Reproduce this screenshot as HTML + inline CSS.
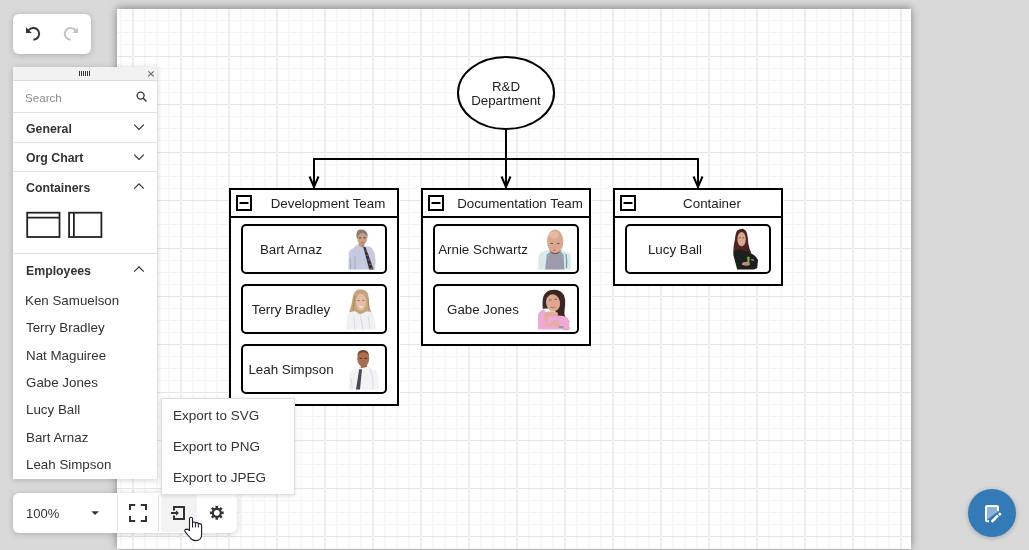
<!DOCTYPE html>
<html>
<head>
<meta charset="utf-8">
<style>
html,body{margin:0;padding:0;}
body{width:1029px;height:550px;overflow:hidden;position:relative;background:#d9d9d9;font-family:"Liberation Sans",sans-serif;color:#333;}
.abs{position:absolute;}
.t{position:absolute;white-space:nowrap;line-height:1;will-change:transform;}
#page{left:117px;top:9px;width:794px;height:540px;background-color:#fff;
 background-image:
  linear-gradient(to right,#eeeeee 2px,transparent 2px),
  linear-gradient(to bottom,#e5e5e5 1px,transparent 1px),
  linear-gradient(to right,#f8f8f8 2px,transparent 2px),
  linear-gradient(to bottom,#f4f4f4 1px,transparent 1px);
 background-size:48px 48px,48px 48px,12px 12px,12px 12px;
 background-position:15px 0,0 47px,3px 0,0 11px;
 box-shadow:0 0 9px rgba(0,0,0,.32),0 -3px 6px rgba(0,0,0,.1);}
.panel{position:absolute;background:#fff;box-shadow:0 1px 6px rgba(0,0,0,.2);}
</style>
</head>
<body>
<div id="page" class="abs"></div>

<!-- diagram -->
<svg class="abs" style="left:0;top:0;will-change:transform" width="1029" height="550" viewBox="0 0 1029 550" font-family="Liberation Sans, sans-serif" font-size="13.333">
<defs>
 <g id="bart">
  <path d="M2.4 41.6L2.8 24.8Q3.5 21.5 6.4 20.8L12 16L18.4 18.4L24 18.4L26.4 20.8Q29 24 29.6 33.6L28.8 41.6Z" fill="#c6cae0"/>
  <path d="M8.8 28Q9.5 35 8.8 41.6M4 30Q5 36 4.5 41" stroke="#a3a8c6" stroke-width="1" fill="none"/>
  <path d="M12.8 13.6L12.8 17L16 19.5L18.4 18.4L18.4 13.6Z" fill="#b89078"/>
  <ellipse cx="16.2" cy="10.2" rx="5" ry="6.6" fill="#c8a08a"/>
  <path d="M10.6 10Q9.6 2.5 14 1.6Q20 1 21.6 6.5L21.4 10Q20.5 5.8 16.5 5Q12.5 5.2 11.8 10Z" fill="#8b7d6e"/>
  <path d="M13 9.8H15.2M17.4 9.8H19.6" stroke="#5a4030" stroke-width="1"/>
  <path d="M15.5 14.5H18" stroke="#8a5a4a" stroke-width="0.8"/>
  <path d="M17.2 18.8L19.6 19.2L27.6 41.6L23.2 41.6Z" fill="#2c3148"/>
  <path d="M18.8 23L21 22.8M20.3 27.5L23 27M21.8 32L24.5 31.5M23.2 36.5L26 36M24.3 40.5L27.2 40" stroke="#b5632e" stroke-width="1.2"/>
 </g>
 <g id="terry">
  <path d="M3.2 24Q6 16 7.2 7.2Q9.5 2 12.8 1.6Q17 1 18.4 2Q22 4 22.4 8L23.2 19.2Q24 22 25.6 23.2Q22 26 17.6 26.4L8 26.4Q5 26 3.2 24Z" fill="#c4a47c"/>
  <path d="M7 22Q8 14 9 8M22 10Q22.5 18 23.5 22" stroke="#a4865e" stroke-width="1" fill="none"/>
  <ellipse cx="15" cy="14" rx="5.2" ry="8.4" fill="#e6bca2"/>
  <path d="M11.5 12.4H13.8M16.2 12.4H18.5" stroke="#8a6a5a" stroke-width="0.9"/>
  <path d="M12.6 18.2Q15 20.6 17.6 18.2Z" fill="#fff"/>
  <path d="M0 41.6L1.6 25.6Q4 23.5 9.6 23.2L14 26.4L20.8 23.2Q25 23.5 27.2 25.6L30.4 41.6Z" fill="#f1f1f3"/>
  <path d="M14 26.4L17 41.6M8 29L9 41.6M22 28L24 41" stroke="#d6d6de" stroke-width="0.9" fill="none"/>
 </g>
 <g id="leah">
  <path d="M2.4 41.6L3.2 26.4Q4.5 22.5 8 21.6L14.4 19.2L20.8 17.2L24 19.2L31.2 24Q33 30 32.8 41.6Z" fill="#f3f3f5"/>
  <path d="M24 21Q28 30 27 41.6M5 30Q6 36 6 41" stroke="#dcdce2" stroke-width="1" fill="none"/>
  <path d="M14.8 15L14.8 20L20.8 19L20.8 15Z" fill="#8e5c40"/>
  <ellipse cx="17.2" cy="10.4" rx="6" ry="8.2" fill="#a87050"/>
  <path d="M11.4 8Q11.5 2 17 2Q22.8 2 23 8Q21.5 4.5 17 4.3Q13 4.5 11.4 8Z" fill="#6e4430"/>
  <path d="M13.6 10.4H15.8M18.6 10.4H20.8" stroke="#3a2218" stroke-width="1"/>
  <path d="M13.2 21.2L16 21.2L14 41.6L10 41.6Z" fill="#454a52"/>
 </g>
 <g id="arnie">
  <path d="M0 41.6L0.8 27.2Q3 23 8.8 22.4L24 21.6L28 24Q31 25 32.8 26.4L32.8 41.6Z" fill="#d8eaea"/>
  <path d="M7.2 41.6L8.8 26.4Q10.5 24.5 13.2 24L23.2 24Q25 25 25.6 27.2L26.4 41.6Z" fill="#9c9cae"/>
  <path d="M28 26Q29 32 28.5 40" stroke="#6a9a9a" stroke-width="1.2" fill="none"/>
  <ellipse cx="17.2" cy="13.6" rx="8.2" ry="12" fill="#d9a88e"/>
  <ellipse cx="16" cy="7" rx="5" ry="3.5" fill="#e6baa2"/>
  <path d="M11 22Q17 28.5 23.5 22Q22 25.5 17 26.2Q12.5 25.5 11 22Z" fill="#6e5246"/>
  <path d="M12.5 15.5H15M19 15.5H21.5" stroke="#7a5444" stroke-width="1"/>
  <circle cx="16.5" cy="22" r="1" fill="#d46a7a"/>
 </g>
 <g id="gabe">
  <path d="M4.8 20.8Q4 12 5.6 8Q8 3.5 11.2 2.4Q15 1.5 19.2 2Q23 3 25.6 6.4Q27.5 10 27.2 16Q26.5 22 26.4 26.4Q28 31 31.2 33.6L30.4 41.6L25.6 41.6Q22 35 20 30.4L16 20Z" fill="#3a2622"/>
  <ellipse cx="15" cy="14.8" rx="7" ry="8.6" transform="rotate(-12 15 14.8)" fill="#e0a890"/>
  <path d="M11 12H13.5M16.5 11.4H19" stroke="#6a4a40" stroke-width="0.9"/>
  <path d="M12.5 19.2Q15 20.5 17.5 19" stroke="#c85a70" stroke-width="1" fill="none"/>
  <path d="M0 41.6L0 26.4Q2 22.5 5.6 21.6L10.4 26.4L25.6 28Q29 29 30.4 30.4L32 41.6Z" fill="#eeaad4"/>
  <path d="M6.5 25Q12 22 19.5 24.5Q21 27 18 28.5Q13 28 10 29Q8 33 9.5 36Q12 37 14 34Q16 31 19 32Q21 35 22 38L20 39Q16 36 13 38Q9 39 7.5 36Q6 30 6.5 25Z" fill="#e4ae9c"/>
  <rect x="20.8" y="38" width="4.8" height="2.2" fill="#9a9aa2"/>
 </g>
 <g id="lucy">
  <path d="M3.2 25.6Q3.5 17 4.8 12Q5.5 5 7.2 2.4Q10 0.6 12.8 0.8Q16 2 16.8 4.8Q18 9 18.4 16Q19.5 22 21.6 25.6Z" fill="#4a2420"/>
  <ellipse cx="11.6" cy="11.2" rx="4.2" ry="7.2" fill="#d8a890"/>
  <path d="M9.2 9.8H10.8M12.6 9.8H14.2" stroke="#5a3a30" stroke-width="0.8"/>
  <path d="M7.2 41.6L3.2 26.4Q5 22 8.8 21.6L16 23.2L23.2 26.4Q27 29 28 32L27.2 40L24 41.6Z" fill="#1c201c"/>
  <path d="M17.2 28.8L19.6 28.8L19.2 36L17.6 36Z" fill="#80b830"/>
  <path d="M12 35Q16 33 19 34.5Q21 36 19 37.5Q15 38 12 37Z" fill="#b88a76"/>
  <path d="M21 32Q23 31 23.5 33" stroke="#b88a76" stroke-width="1.2" fill="none"/>
 </g>
</defs>
 <g fill="none" stroke="#000" stroke-width="2">
  <ellipse cx="506" cy="93" rx="48" ry="36" fill="#fff"/>
  <path d="M506 129V187M314 159H698M314 158V187M698 158V187"/>
  <path d="M309.5 176.5L314 187L318.5 176.5M501.5 176.5L506 187L510.5 176.5M693.5 176.5L698 187L702.5 176.5"/>
 </g>
 <text x="506" y="91" text-anchor="middle" fill="#222">R&amp;D</text>
 <text x="506" y="105" text-anchor="middle" fill="#222">Department</text>
 <g stroke="#000" stroke-width="2" fill="#fff"><rect x="230" y="189" width="168" height="216"/><path d="M230 217H398" fill="none"/><rect x="237" y="196" width="14" height="14"/><path d="M239.5 203H248.5" fill="none"/></g>
 <text x="328" y="208" text-anchor="middle" fill="#222">Development Team</text>
 <rect x="242" y="225" width="144" height="48" rx="4" fill="#fff" stroke="#000" stroke-width="2"/>
 <text x="291" y="254" text-anchor="middle" fill="#222">Bart Arnaz</text>
 <use href="#bart" x="346" y="228"/>
 <rect x="242" y="285" width="144" height="48" rx="4" fill="#fff" stroke="#000" stroke-width="2"/>
 <text x="291" y="314" text-anchor="middle" fill="#222">Terry Bradley</text>
 <use href="#terry" x="346" y="288"/>
 <rect x="242" y="345" width="144" height="48" rx="4" fill="#fff" stroke="#000" stroke-width="2"/>
 <text x="291" y="374" text-anchor="middle" fill="#222">Leah Simpson</text>
 <use href="#leah" x="346" y="348"/>
 <g stroke="#000" stroke-width="2" fill="#fff"><rect x="422" y="189" width="168" height="156"/><path d="M422 217H590" fill="none"/><rect x="429" y="196" width="14" height="14"/><path d="M431.5 203H440.5" fill="none"/></g>
 <text x="520" y="208" text-anchor="middle" fill="#222">Documentation Team</text>
 <rect x="434" y="225" width="144" height="48" rx="4" fill="#fff" stroke="#000" stroke-width="2"/>
 <text x="483" y="254" text-anchor="middle" fill="#222">Arnie Schwartz</text>
 <use href="#arnie" x="538" y="228"/>
 <rect x="434" y="285" width="144" height="48" rx="4" fill="#fff" stroke="#000" stroke-width="2"/>
 <text x="483" y="314" text-anchor="middle" fill="#222">Gabe Jones</text>
 <use href="#gabe" x="538" y="288"/>
 <g stroke="#000" stroke-width="2" fill="#fff"><rect x="614" y="189" width="168" height="96"/><path d="M614 217H782" fill="none"/><rect x="621" y="196" width="14" height="14"/><path d="M623.5 203H632.5" fill="none"/></g>
 <text x="712" y="208" text-anchor="middle" fill="#222">Container</text>
 <rect x="626" y="225" width="144" height="48" rx="4" fill="#fff" stroke="#000" stroke-width="2"/>
 <text x="675" y="254" text-anchor="middle" fill="#222">Lucy Ball</text>
 <use href="#lucy" x="730" y="228"/>
</svg>

<!-- undo toolbar -->
<div class="panel" style="left:12.5px;top:13.5px;width:78.5px;height:40.5px;border-radius:6px;"></div>
<svg class="abs" style="left:0;top:0" width="100" height="60" viewBox="0 0 100 60">
 <g fill="none" stroke-width="2">
  <path d="M28.6 30.2A5.9 5.9 0 1 1 33.4 39.7" stroke="#333"/>
  <path d="M75.4 30.2A5.9 5.9 0 1 0 70.6 39.7" stroke="#c4c4c4"/>
 </g>
 <path d="M26 27.2V32.9H31.8Z" fill="#333"/>
 <path d="M78 27.2V32.9H72.2Z" fill="#c4c4c4"/>
</svg>

<!-- toolbox -->
<div class="panel" style="left:12.5px;top:67px;width:144.5px;height:412px;"></div>
<div class="abs" style="left:12.5px;top:67px;width:144.5px;height:13px;background:#f2f2f2;border-bottom:1px solid #dcdcdc;"></div>
<svg class="abs" style="left:0;top:60px" width="160" height="440" viewBox="0 60 160 440">
 <g fill="#333"><rect x="79" y="71" width="1" height="5"/><rect x="81" y="71" width="1" height="5"/><rect x="83" y="71" width="1" height="5"/><rect x="85" y="71" width="1" height="5"/><rect x="87" y="71" width="1" height="5"/><rect x="89" y="71" width="1" height="5"/></g>
 <path d="M148.3 71.3L153.7 76.3M153.7 71.3L148.3 76.3" stroke="#666" stroke-width="1.1"/>
 <circle cx="140.6" cy="95.6" r="3.5" fill="none" stroke="#333" stroke-width="1.3"/>
 <path d="M143.1 98.1L146.5 101.5" stroke="#333" stroke-width="1.4"/>
 <g fill="#e0e0e0">
  <rect x="12.5" y="112" width="144.5" height="1"/>
  <rect x="12.5" y="142" width="144.5" height="1"/>
  <rect x="12.5" y="171" width="144.5" height="1"/>
  <rect x="12.5" y="253" width="144.5" height="1"/>
 </g>
 <g fill="none" stroke="#333" stroke-width="1.2">
  <path d="M134.2 124.6L139 129.4L143.8 124.6"/>
  <path d="M134.2 154.6L139 159.4L143.8 154.6"/>
  <path d="M134.2 188.6L139 183.8L143.8 188.6"/>
  <path d="M134.2 271.6L139 266.8L143.8 271.6"/>
 </g>
 <g fill="none" stroke="#222" stroke-width="1.8">
  <rect x="27.2" y="212.7" width="32.3" height="24.3"/>
  <path d="M27.2 217.6H59.5"/>
  <rect x="69.1" y="212.7" width="32.3" height="24.3"/>
  <path d="M73.9 212.7V237"/>
 </g>
</svg>
<div class="t" style="left:25.2px;top:92.2px;font-size:11.6px;color:#8c8c8c;">Search</div>
<div class="t b" style="left:25.5px;top:122.8px;font-size:12.3px;font-weight:bold;">General</div>
<div class="t b" style="left:25.5px;top:152.3px;font-size:12.3px;font-weight:bold;">Org Chart</div>
<div class="t b" style="left:25.5px;top:181.8px;font-size:12.3px;font-weight:bold;">Containers</div>
<div class="t b" style="left:25.5px;top:264.8px;font-size:12.3px;font-weight:bold;">Employees</div>
<div class="t" style="left:24.8px;top:293.8px;font-size:13.35px;">Ken Samuelson</div>
<div class="t" style="left:25.5px;top:321.2px;font-size:13.35px;">Terry Bradley</div>
<div class="t" style="left:25.5px;top:348.5px;font-size:13.35px;">Nat Maguiree</div>
<div class="t" style="left:25.5px;top:375.9px;font-size:13.35px;">Gabe Jones</div>
<div class="t" style="left:25.5px;top:403.2px;font-size:13.35px;">Lucy Ball</div>
<div class="t" style="left:25.5px;top:430.6px;font-size:13.35px;">Bart Arnaz</div>
<div class="t" style="left:25.5px;top:457.9px;font-size:13.35px;">Leah Simpson</div>

<!-- bottom toolbar -->
<div class="panel" style="left:12.5px;top:493px;width:224.5px;height:40px;border-radius:6px;"></div>
<div class="abs" style="left:161px;top:495px;width:35.5px;height:37px;background:#f3f3f3;border-radius:0 0 0 4px;"></div>
<svg class="abs" style="left:0;top:480px" width="250" height="70" viewBox="0 480 250 70">
 <rect x="117" y="495" width="1" height="36" fill="#e0e0e0"/>
 <rect x="158" y="495" width="1" height="36" fill="#e0e0e0"/>
 <path d="M91.3 511.2H98.9L95.1 515Z" fill="#333"/>
 <g fill="none" stroke="#333" stroke-width="2">
  <path d="M130 510V505H135.2M140.8 505H146V510M146 516V521H140.8M135.2 521H130V516"/>
  <path d="M174 510.5V507H184V519H174V515.4"/>
 </g>
 <path d="M171 513H176.5" stroke="#333" stroke-width="2"/>
 <path d="M176 510.2L178.9 513L176 515.8Z" fill="#333"/>
 <g transform="translate(216.8 512.8)" fill="#333">
  <circle r="5.1"/><rect x="-1.3" y="-6.9" width="2.6" height="2.8" transform="rotate(0)"/><rect x="-1.3" y="-6.9" width="2.6" height="2.8" transform="rotate(45)"/><rect x="-1.3" y="-6.9" width="2.6" height="2.8" transform="rotate(90)"/><rect x="-1.3" y="-6.9" width="2.6" height="2.8" transform="rotate(135)"/><rect x="-1.3" y="-6.9" width="2.6" height="2.8" transform="rotate(180)"/><rect x="-1.3" y="-6.9" width="2.6" height="2.8" transform="rotate(225)"/><rect x="-1.3" y="-6.9" width="2.6" height="2.8" transform="rotate(270)"/><rect x="-1.3" y="-6.9" width="2.6" height="2.8" transform="rotate(315)"/>
  <circle r="2.9" fill="#fff"/>
 </g>
 <path d="M189.5 530V518.7A1.5 1.5 0 0 1 192.5 518.7V522.8Q192.5 522 194 522Q195.4 522 195.4 523.2Q195.4 522.6 196.9 522.6Q198.3 522.6 198.3 523.8Q198.3 523.3 199.8 523.6Q201.6 524 201.6 525.5V534.5Q201.6 540.6 195.5 540.6Q192 540.6 190 537.5L185.2 531.8Q184.3 530 185.5 529.4Q187.2 528.6 189.5 530.5Z" fill="#fff" stroke="#1a1a2e" stroke-width="1.1" stroke-linejoin="round"/>
 <path d="M192.5 522.8V527.5M195.4 523.2V527.5M198.3 523.8V527.5" stroke="#1a1a2e" stroke-width="1"/>
</svg>
<div class="t" style="left:25.8px;top:507px;font-size:13px;">100%</div>

<!-- export popup -->
<div class="panel" style="left:161px;top:398px;width:132px;height:95px;border:1px solid #dedede;box-shadow:0 1px 4px rgba(0,0,0,.12);"></div>
<div class="t" style="left:172.8px;top:408.6px;font-size:13.5px;">Export to SVG</div>
<div class="t" style="left:172.8px;top:439.6px;font-size:13.5px;">Export to PNG</div>
<div class="t" style="left:172.8px;top:470.6px;font-size:13.5px;">Export to JPEG</div>

<!-- fab -->
<div class="abs" style="left:968px;top:489px;width:48px;height:48px;border-radius:50%;background:#337ab7;box-shadow:0 1px 5px rgba(0,0,0,.25);"></div>
<svg class="abs" style="left:968px;top:489px" width="48" height="48" viewBox="968 489 48 48">
 <path d="M987 507H997V512.3L988 519H987Z" fill="#8fb3d9"/>
 <path d="M989 521.2H987.3Q986 521.2 986 519.9V507.3Q986 506 987.3 506H996.7Q998 506 998 507.3V511.3" fill="none" stroke="#fff" stroke-width="2"/>
 <path d="M991.6 521.9L997.9 515.6" stroke="#fff" stroke-width="2.6"/>
 <rect x="-1.3" y="-1.3" width="2.6" height="2.6" fill="#fff" transform="translate(999.8 514.2) rotate(45)"/>
</svg>
</body>
</html>
